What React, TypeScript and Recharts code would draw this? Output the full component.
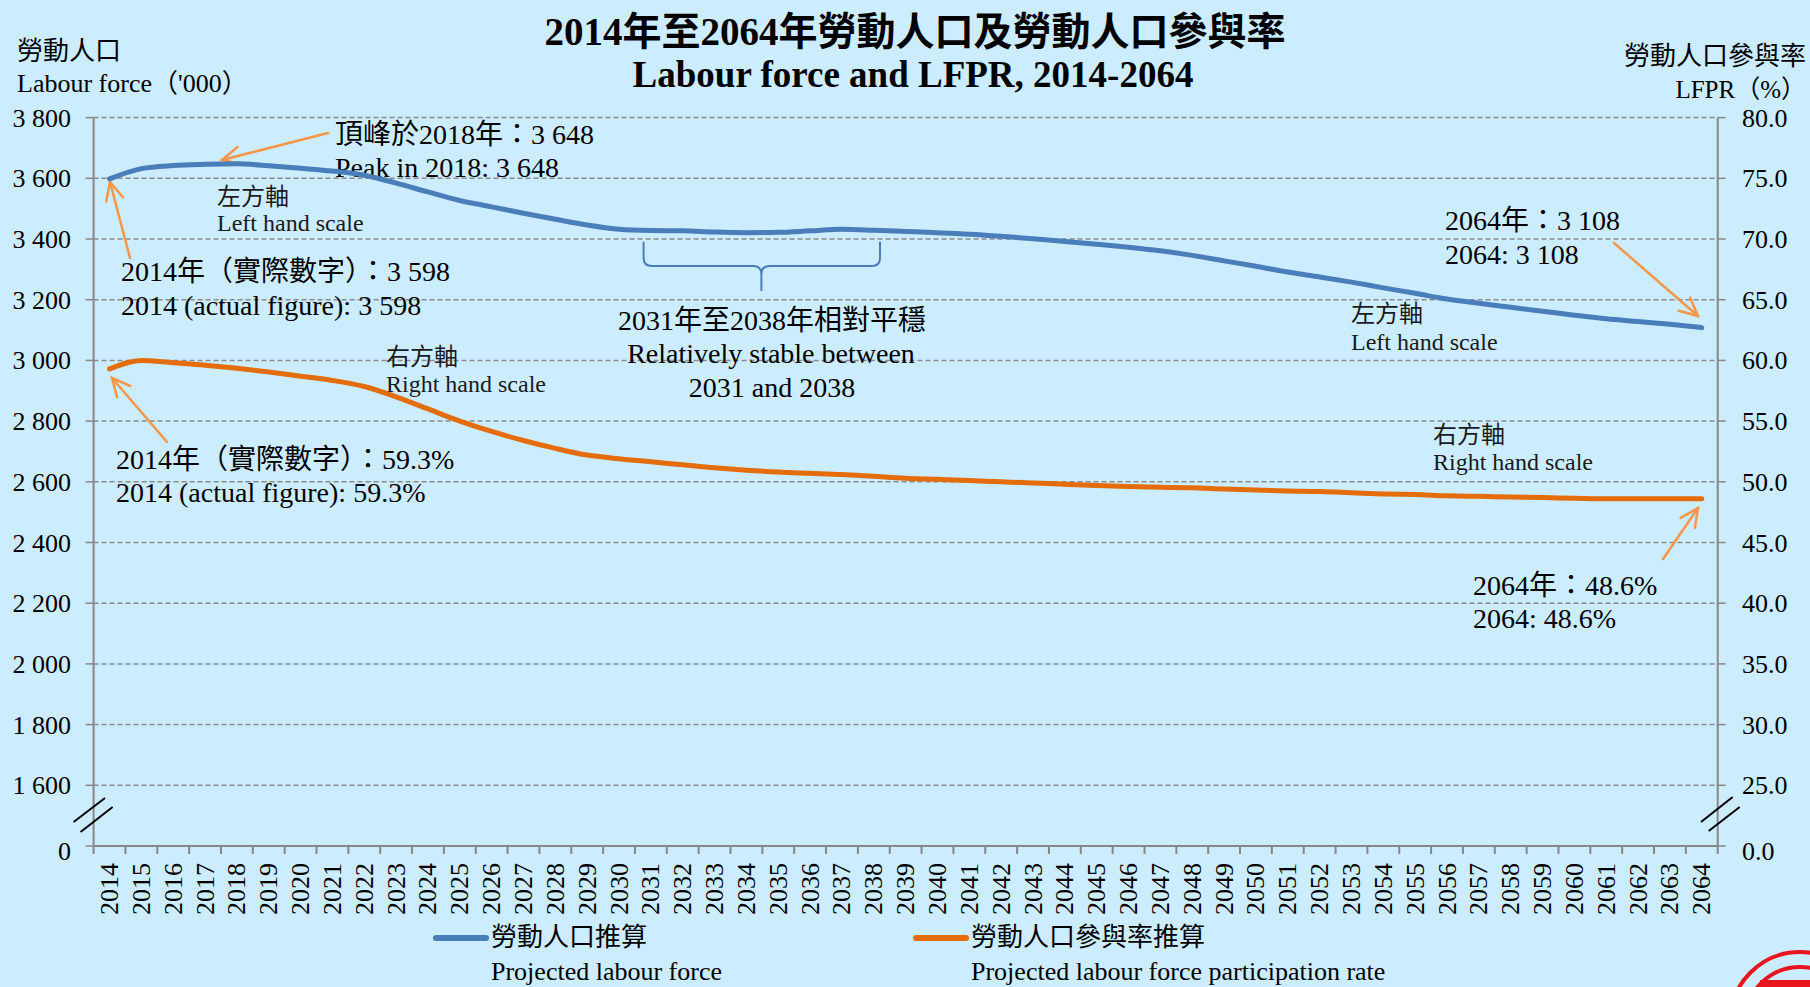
import { ComposedChart, Line, XAxis, YAxis, CartesianGrid, Legend, Customized } from "recharts"

const YEARS = [
  "2014", "2015", "2016", "2017", "2018", "2019", "2020", "2021", "2022", "2023",
  "2024", "2025", "2026", "2027", "2028", "2029", "2030", "2031", "2032", "2033",
  "2034", "2035", "2036", "2037", "2038", "2039", "2040", "2041", "2042", "2043",
  "2044", "2045", "2046", "2047", "2048", "2049", "2050", "2051", "2052", "2053",
  "2054", "2055", "2056", "2057", "2058", "2059", "2060", "2061", "2062", "2063",
  "2064",
]

// labour force, '000 (left scale)
const LABOUR_FORCE = [
  3598, 3632, 3642, 3646, 3648, 3641, 3633, 3624, 3610, 3584,
  3555, 3527, 3506, 3485, 3465, 3446, 3432, 3428, 3427, 3423,
  3421, 3422, 3427, 3432, 3429, 3425, 3421, 3416, 3409, 3401,
  3392, 3383, 3373, 3361, 3346, 3328, 3310, 3291, 3275, 3258,
  3239, 3221, 3202, 3188, 3175, 3162, 3149, 3137, 3128, 3119,
  3108,
]

// labour force participation rate, % (right scale)
const LFPR = [
  59.3, 60.0, 59.8, 59.6, 59.35, 59.05, 58.7, 58.35, 57.85, 57.0,
  56.0, 55.0, 54.15, 53.4, 52.75, 52.2, 51.9, 51.65, 51.4, 51.15,
  50.95, 50.8, 50.7, 50.6, 50.45, 50.3, 50.2, 50.1, 50.0, 49.9,
  49.8, 49.7, 49.62, 49.55, 49.5, 49.4, 49.32, 49.25, 49.2, 49.1,
  49.0, 48.95, 48.85, 48.8, 48.75, 48.7, 48.65, 48.6, 48.6, 48.6,
  48.6,
]

// bottom tick of each axis is shown as the broken "0"
const LEFT_TICKS = [1400, 1600, 1800, 2000, 2200, 2400, 2600, 2800, 3000, 3200, 3400, 3600, 3800]
const RIGHT_TICKS = [20, 25, 30, 35, 40, 45, 50, 55, 60, 65, 70, 75, 80]

const SERIES_ZH = { labour: "勞動人口推算", lfpr: "勞動人口參與率推算" }
const SERIES_EN = { labour: "Projected labour force", lfpr: "Projected labour force participation rate" }

const data = YEARS.map((year, i) => ({ year, labour: LABOUR_FORCE[i], lfpr: LFPR[i] }))

const SERIF = "'Liberation Serif', 'Times New Roman', 'Noto Sans CJK TC', serif"
const BG = "#CCECFF"
const AXIS = "#878787"
const BLUE = "#4A7EBB"
const ORANGE = "#E46C0A"
const ARROW = "#F79646"

const fmtThousands = (v: number) => `${Math.floor(v / 1000)} ${String(v % 1000).padStart(3, "0")}`

function LeftTick({ x, y, payload }: any) {
  const bottom = payload.value === LEFT_TICKS[0]
  const ax = x + 22.6
  return (
    <g>
      <text x={x} y={y} dy={bottom ? 14 : 9} textAnchor="end" fontSize={26} fontFamily={SERIF} fill="#000">
        {bottom ? "0" : fmtThousands(payload.value)}
      </text>
      {bottom && (
        <g stroke="#000" strokeWidth={2}>
          <line x1={ax - 20} y1={y - 24} x2={ax + 11.4} y2={y - 48} />
          <line x1={ax - 13} y1={y - 14} x2={ax + 19} y2={y - 39} />
        </g>
      )}
    </g>
  )
}

function RightTick({ x, y, payload }: any) {
  const bottom = payload.value === RIGHT_TICKS[0]
  const ax = x - 24.3
  return (
    <g>
      <text x={x} y={y} dy={bottom ? 14 : 9} textAnchor="start" fontSize={26} fontFamily={SERIF} fill="#000">
        {bottom ? "0.0" : Number(payload.value).toFixed(1)}
      </text>
      {bottom && (
        <g stroke="#000" strokeWidth={2}>
          <line x1={ax - 16.7} y1={y - 24} x2={ax + 15} y2={y - 49} />
          <line x1={ax - 9} y1={y - 15} x2={ax + 22} y2={y - 39} />
        </g>
      )}
    </g>
  )
}

// ticks sit on the band edges, labels in the middle of each band
function YearTick({ x, y, payload, index }: any) {
  const off = payload.offset || 15.9
  const axisY = y - 17
  return (
    <g>
      <line x1={x - off} x2={x - off} y1={axisY} y2={axisY + 8} stroke={AXIS} strokeWidth={2} />
      {index === YEARS.length - 1 && (
        <line x1={x + off} x2={x + off} y1={axisY} y2={axisY + 8} stroke={AXIS} strokeWidth={2} />
      )}
      <text
        x={x}
        y={y}
        transform={`rotate(-90 ${x} ${y})`}
        textAnchor="end"
        dominantBaseline="central"
        fontSize={26}
        fontFamily={SERIF}
        fill="#000"
      >
        {payload.value}
      </text>
    </g>
  )
}

function LegendContent({ payload }: any) {
  const left: Record<string, number> = { labour: 433, lfpr: 913 }
  return (
    <div style={{ position: "relative", width: 1810, height: 70, fontFamily: SERIF, fontSize: 26, color: "#000" }}>
      {(payload || []).map((p: any) => (
        <div key={p.dataKey} style={{ position: "absolute", left: left[p.dataKey], top: 0 }}>
          <div style={{ position: "absolute", left: 0, top: 14, width: 56, height: 6, borderRadius: 3, background: p.color }} />
          <div style={{ position: "absolute", left: 58, top: 0, whiteSpace: "nowrap", lineHeight: "34px" }}>
            <div>{SERIES_ZH[p.dataKey as keyof typeof SERIES_ZH]}</div>
            <div>{SERIES_EN[p.dataKey as keyof typeof SERIES_EN]}</div>
          </div>
        </div>
      ))}
    </div>
  )
}

function Arrow({ x1, y1, x2, y2 }: { x1: number; y1: number; x2: number; y2: number }) {
  const a = Math.atan2(y2 - y1, x2 - x1)
  const len = 20
  const spread = 0.45
  const h1 = [x2 - len * Math.cos(a - spread), y2 - len * Math.sin(a - spread)]
  const h2 = [x2 - len * Math.cos(a + spread), y2 - len * Math.sin(a + spread)]
  return (
    <g stroke={ARROW} strokeWidth={2.5} fill="none" strokeLinecap="round">
      <line x1={x1} y1={y1} x2={x2} y2={y2} />
      <polyline points={`${h1[0]},${h1[1]} ${x2},${y2} ${h2[0]},${h2[1]}`} />
    </g>
  )
}

const NOTES = [
  { x: 335, y: 134, size: 28, text: "頂峰於2018年：3 648" },
  { x: 335, y: 167, size: 28, text: "Peak in 2018: 3 648" },
  { x: 217, y: 197, size: 24, text: "左方軸" },
  { x: 217, y: 223, size: 24, text: "Left hand scale" },
  { x: 121, y: 271, size: 28, text: "2014年（實際數字）：3 598" },
  { x: 121, y: 305, size: 28, text: "2014 (actual figure): 3 598" },
  { x: 772, y: 320, size: 28, text: "2031年至2038年相對平穩", anchor: "middle" },
  { x: 771, y: 353, size: 28, text: "Relatively stable between", anchor: "middle" },
  { x: 772, y: 387, size: 28, text: "2031 and 2038", anchor: "middle" },
  { x: 386, y: 357, size: 24, text: "右方軸" },
  { x: 386, y: 384, size: 24, text: "Right hand scale" },
  { x: 116, y: 459, size: 28, text: "2014年（實際數字）：59.3%" },
  { x: 116, y: 492, size: 28, text: "2014 (actual figure): 59.3%" },
  { x: 1445, y: 220, size: 28, text: "2064年：3 108" },
  { x: 1445, y: 254, size: 28, text: "2064: 3 108" },
  { x: 1351, y: 314, size: 24, text: "左方軸" },
  { x: 1351, y: 342, size: 24, text: "Left hand scale" },
  { x: 1433, y: 435, size: 24, text: "右方軸" },
  { x: 1433, y: 462, size: 24, text: "Right hand scale" },
  { x: 1473, y: 585, size: 28, text: "2064年：48.6%" },
  { x: 1473, y: 618, size: 28, text: "2064: 48.6%" },
]

const ARROWS = [
  { x1: 328, y1: 133, x2: 222, y2: 160 },
  { x1: 130, y1: 258, x2: 110, y2: 182 },
  { x1: 167, y1: 442, x2: 112, y2: 378 },
  { x1: 1614, y1: 243, x2: 1698, y2: 316 },
  { x1: 1663, y1: 559, x2: 1698, y2: 508 },
]

function Decorations() {
  return (
    <g fontFamily={SERIF} fill="#000">
      <text x={915} y={31} textAnchor="middle" dominantBaseline="central" fontSize={39} fontWeight="bold">
        2014年至2064年勞動人口及勞動人口參與率
      </text>
      <text x={913} y={74} textAnchor="middle" dominantBaseline="central" fontSize={37} fontWeight="bold">
        Labour force and LFPR, 2014-2064
      </text>

      <text x={17} y={51} dominantBaseline="central" fontSize={26}>勞動人口</text>
      <text x={17} y={83} dominantBaseline="central" fontSize={26}>Labour force（'000）</text>
      <text x={1806} y={56} textAnchor="end" dominantBaseline="central" fontSize={26}>勞動人口參與率</text>
      <text x={1806} y={89} textAnchor="end" dominantBaseline="central" fontSize={25}>LFPR（%）</text>

      {NOTES.map((n, i) => (
        <text
          key={i}
          x={n.x}
          y={n.y}
          fontSize={n.size}
          textAnchor={(n as any).anchor || "start"}
          dominantBaseline="central"
          fill={n.size === 24 ? "#1a1a1a" : "#000"}
        >
          {n.text}
        </text>
      ))}

      {ARROWS.map((a, i) => (
        <Arrow key={i} {...a} />
      ))}

      <path
        d="M643.6,241.7 V258 Q643.6,266 652,266 H753 Q761.4,266 761.4,274 V291 M761.4,274 Q761.4,266 770,266 H872 Q880,266 880,258 V241.7"
        stroke={BLUE}
        strokeWidth={2}
        fill="none"
      />

      <g stroke="#E8141E" fill="none" strokeWidth={4}>
        <circle cx={1800} cy={1022} r={70} />
        <circle cx={1800} cy={1022} r={55} />
      </g>
      <rect x={1760} y={980} width={60} height={7} fill="#E8141E" />
    </g>
  )
}

export default function App() {
  return (
    <div style={{ position: "absolute", left: 0, top: 0, width: 1810, height: 987, background: BG, overflow: "hidden" }}>
      <ComposedChart width={1810} height={987} data={data} margin={{ top: 117.6, right: 0, bottom: 0, left: 0 }}>
        <CartesianGrid yAxisId="left" vertical={false} stroke="#8C8C8C" strokeWidth={1.5} strokeDasharray="5 3" />
        <XAxis
          dataKey="year"
          type="category"
          scale="band"
          interval={0}
          height={141}
          tickSize={8}
          tickMargin={9}
          tickLine={false}
          axisLine={{ stroke: AXIS, strokeWidth: 2 }}
          tick={<YearTick />}
        />
        <YAxis
          yAxisId="left"
          orientation="left"
          width={93.6}
          domain={[1400, 3800]}
          ticks={LEFT_TICKS}
          interval={0}
          tickSize={8}
          tickMargin={14.6}
          axisLine={{ stroke: AXIS, strokeWidth: 2 }}
          tickLine={{ stroke: AXIS, strokeWidth: 1.5 }}
          tick={<LeftTick />}
        />
        <YAxis
          yAxisId="right"
          orientation="right"
          width={92.3}
          domain={[20, 80]}
          ticks={RIGHT_TICKS}
          interval={0}
          tickSize={8}
          tickMargin={16.3}
          axisLine={{ stroke: AXIS, strokeWidth: 2 }}
          tickLine={{ stroke: AXIS, strokeWidth: 1.5 }}
          tick={<RightTick />}
        />
        <Legend
          verticalAlign="middle"
          align="center"
          layout="horizontal"
          wrapperStyle={{ top: 921, left: 0, width: 1810, height: 70 }}
          content={<LegendContent />}
        />
        <Line
          yAxisId="left"
          dataKey="labour"
          name={SERIES_ZH.labour}
          type="monotone"
          stroke={BLUE}
          strokeWidth={5}
          strokeLinecap="round"
          dot={false}
          activeDot={false}
          isAnimationActive={false}
        />
        <Line
          yAxisId="right"
          dataKey="lfpr"
          name={SERIES_ZH.lfpr}
          type="monotone"
          stroke={ORANGE}
          strokeWidth={5}
          strokeLinecap="round"
          dot={false}
          activeDot={false}
          isAnimationActive={false}
        />
        <Customized component={<Decorations />} />
      </ComposedChart>
    </div>
  )
}
